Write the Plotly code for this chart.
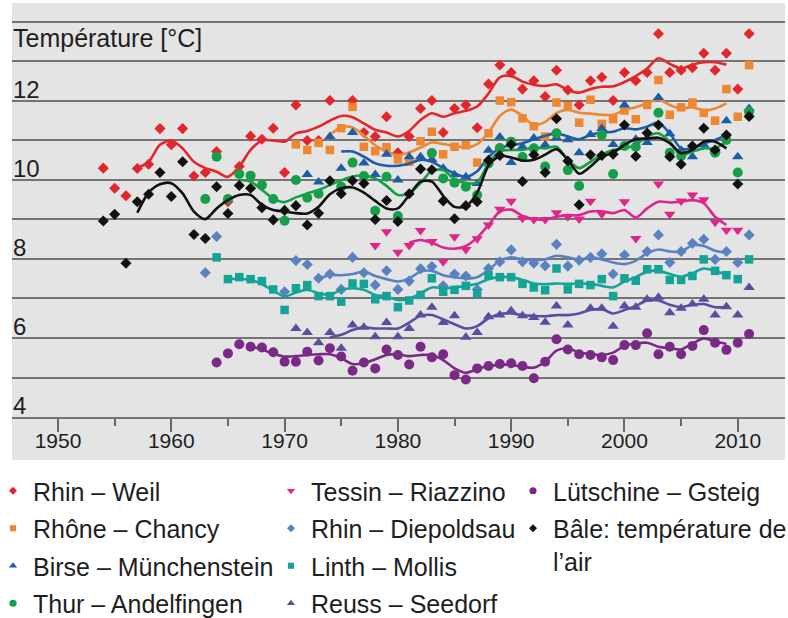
import plotly.graph_objects as go

# ---------------- data ----------------
# Rhin – Weil
weil_years = list(range(1954, 2012))
weil_vals = [10.30, 9.79, 9.60, 10.29, 10.40, 11.30, 10.89, 11.30, 10.10, 10.19,
             10.72, 9.45, 10.34, 11.11, 11.03, 11.31, 10.19, 11.90, 11.00, 11.00,
             12.01, None, 12.01, 11.20, 11.10, 11.60, 10.69, 11.10, 11.81, 12.01,
             11.20, 11.81, 11.90, 11.32, 12.43, 12.91, 12.72, 12.30, 12.51, 12.11,
             12.78, 12.28, 11.90, 12.51, 12.60, 12.01, 12.72, 12.51, 12.72, 13.70,
             12.72, 12.78, 12.84, 13.21, 12.78, 13.21, 12.30, 13.70]
weil_line_years = list(range(1957, 2010))
weil_line = [10.30, 10.46, 10.89, 11.00, 10.80, 10.46, 10.30, 10.21, 10.08, 10.34,
             10.76, 11.00, 11.00, 10.97, 11.18, 11.24, 11.35, 11.50, 11.62, 11.59,
             11.43, 11.27, 11.20, 11.10, 11.24, 11.52, 11.69, 11.60, 11.69, 11.75,
             11.86, 12.19, 12.60, 12.63, 12.49, 12.41, 12.38, 12.42, 12.28, 12.21,
             12.30, 12.36, 12.37, 12.48, 12.63, 12.82, 13.08, 12.94, 12.82, 12.92,
             12.98, 12.98, 12.92]

# Rhône – Chancy
chancy_years = list(range(1971, 2012))
chancy_vals = [10.90, 10.76, 10.94, 10.76, 11.31, 11.85, 10.84, 10.73, 10.83, 10.52,
               10.46, 10.98, 11.22, 10.65, 10.84, 10.88, 10.44, 11.18, 12.01, 11.97,
               11.56, 11.36, 11.10, 11.96, 11.87, 11.45, 12.03, 11.42, 11.54, 11.76,
               11.54, 11.90, 12.53, 11.65, 11.84, 11.96, 11.70, 11.50, 12.30, 11.60,
               12.91]
chancy_line_years = list(range(1974, 2010))
chancy_line = [11.15, 11.33, 11.33, 11.12, 10.88, 10.72, 10.63, 10.70, 10.82, 10.95,
               10.91, 10.86, 10.82, 10.91, 11.20, 11.62, 11.78, 11.62, 11.39, 11.47,
               11.70, 11.77, 11.70, 11.68, 11.65, 11.65, 11.77, 11.84, 11.94, 12.04,
               11.90, 11.81, 11.84, 11.76, 11.81, 11.94]

# Birse – Münchenstein
birse_years = list(range(1972, 2012))
birse_vals = [10.14, 9.95, 11.10, 10.30, 11.20, 10.43, 10.14, 10.65, 10.00, 10.59,
              10.59, 10.52, 10.30, 10.13, 10.08, 9.91, 10.75, 11.09, 10.44, 10.84,
              11.06, 10.89, 11.07, 11.02, 10.69, 11.15, 11.30, 10.90, 11.90, 11.03,
              10.95, 12.09, 11.17, 10.75, 10.59, 10.89, 10.76, 11.50, 10.59, 11.81]
birse_line_years = list(range(1975, 2010))
birse_line = [10.72, 10.72, 10.59, 10.42, 10.36, 10.36, 10.42, 10.51, 10.46, 10.30,
              10.17, 10.08, 10.22, 10.58, 10.80, 10.88, 10.93, 11.03, 11.12, 11.18,
              11.10, 11.03, 11.14, 11.20, 11.22, 11.31, 11.28, 11.35, 11.45, 11.18,
              10.80, 10.80, 10.93, 11.01, 11.14]

# Thur – Andelfingen
thur_years = list(range(1963, 2012))
thur_vals = [9.52, 10.59, 9.52, 10.15, 10.11, 9.87, 9.52, 8.97, 10.00, 9.55,
             9.65, None, 9.83, 10.44, 10.10, 9.22, 10.08, 9.09, None, None,
             10.68, 10.04, 9.93, 9.83, 9.62, 10.42, 10.81, 10.97, 10.58, 10.80,
             10.34, 11.18, 10.25, 9.85, None, 11.14, 10.15, 10.86, 10.84, None,
             11.70, 10.69, 10.61, None, None, 10.69, 11.01, 10.19, 11.73]
thur_line_years = list(range(1966, 2010))
thur_line = [10.00, 9.96, 9.75, 9.53, 9.44, 9.56, 9.66, 9.75, 9.87, 9.99,
             10.09, 10.11, 10.04, 9.85, 9.62, 9.66, 9.92, 10.23, 10.25, 10.02,
             9.92, 9.94, 10.42, 10.72, 10.76, 10.76, 10.82, 10.80, 10.84, 10.51,
             10.30, 10.46, 10.64, 10.76, 10.80, 10.89, 11.10, 11.18, 10.97, 10.63,
             10.72, 10.80, 10.80, 10.97]

# Tessin – Riazzino
tessin_years = list(range(1978, 2011))
tessin_vals = [8.34, 8.69, 8.17, 8.34, 8.72, 8.44, 7.93, 8.56, 8.24, 8.51,
               8.86, 9.26, 9.46, 9.03, 9.00, 9.00, 9.17, 9.07, 9.01, 9.46,
               9.14, None, 9.45, 8.52, None, 9.90, 9.13, 9.47, 9.62, 9.50,
               8.93, 8.73, 8.73]
tessin_line_years = list(range(1981, 2010))
tessin_line = [8.41, 8.48, 8.41, 8.29, 8.26, 8.33, 8.54, 8.86, 9.20, 9.25,
               9.09, 9.01, 9.00, 9.07, 9.11, 9.11, 9.20, 9.21, 9.16, 9.24,
               9.05, 9.28, 9.45, 9.43, 9.45, 9.49, 9.41, 9.07, 8.86]

# Rhin – Diepoldsau
diepoldsau_years = list(range(1963, 2012))
diepoldsau_vals = [7.65, 8.57, None, None, None, None, None, 7.17, 7.96, 7.86,
                   7.51, 7.62, 7.23, 8.04, 7.65, 7.34, 7.70, 7.23, 7.44, 7.75,
                   7.81, 7.32, 7.62, 7.57, 7.23, 7.76, 7.93, 8.23, 7.93, 7.89,
                   7.83, 8.37, 7.82, 7.97, 8.04, 8.13, 7.62, 8.10, None, 8.19,
                   8.61, 7.91, 8.19, 8.40, 8.50, 7.99, 8.19, 7.91, 8.61]
diepoldsau_line_years = list(range(1973, 2010))
diepoldsau_line = [7.51, 7.59, 7.59, 7.62, 7.68, 7.57, 7.49, 7.43, 7.51, 7.68,
                   7.70, 7.59, 7.54, 7.51, 7.54, 7.72, 7.96, 8.04, 7.99, 7.97,
                   7.99, 8.08, 8.04, 7.99, 8.04, 7.99, 7.91, 7.87, 7.96, 8.14,
                   8.24, 8.19, 8.19, 8.35, 8.33, 8.21, 8.16]

# Linth – Mollis
linth_years = list(range(1964, 2012))
linth_vals = [8.04, 7.49, 7.54, 7.49, 7.44, 7.23, 6.71, 7.26, 7.34, 7.06,
              7.06, 6.92, 7.38, 7.37, 6.98, 7.06, 6.78, 6.95, 7.09, 7.51,
              7.17, 7.22, 7.32, 7.13, 7.59, 7.54, 7.54, 7.37, 7.28, 7.21,
              7.76, 7.23, 7.37, 7.34, 7.49, 7.06, 7.51, 7.45, 7.74, 7.74,
              7.47, 7.47, 7.57, 7.99, 7.70, 7.59, 7.49, 7.99]
linth_line_years = list(range(1965, 2010))
linth_line = [7.49, 7.50, 7.47, 7.36, 7.20, 7.05, 7.15, 7.22, 7.13, 7.09,
              7.22, 7.26, 7.22, 7.09, 7.05, 6.96, 7.00, 7.13, 7.28, 7.26,
              7.28, 7.32, 7.37, 7.49, 7.54, 7.54, 7.47, 7.38, 7.36, 7.38,
              7.37, 7.38, 7.37, 7.32, 7.28, 7.43, 7.54, 7.68, 7.70, 7.62,
              7.55, 7.64, 7.76, 7.70, 7.59]

# Reuss – Seedorf
reuss_years = list(range(1971, 2012))
reuss_vals = [6.24, 6.14, 5.88, 6.14, 5.74, 6.33, 6.27, 6.03, 6.39, 6.03,
              6.24, 6.58, 6.78, 6.39, 6.56, 6.02, 6.14, 6.54, 6.58, 6.69,
              6.56, 6.52, 6.40, 6.81, 6.33, None, 6.75, 6.75, 6.30, 6.81,
              6.78, 6.98, 7.03, 6.64, 6.75, 6.86, 6.98, 6.58, 6.79, 6.58,
              7.28]
reuss_line_years = list(range(1974, 2010))
reuss_line = [6.02, 6.08, 6.20, 6.27, 6.24, 6.24, 6.24, 6.39, 6.56, 6.58,
              6.47, 6.35, 6.24, 6.30, 6.50, 6.61, 6.62, 6.58, 6.56, 6.55,
              6.58, 6.58, 6.62, 6.71, 6.73, 6.62, 6.71, 6.81, 6.95, 6.95,
              6.84, 6.78, 6.84, 6.86, 6.78, 6.78]

# Lütschine – Gsteig
lutschine_years = list(range(1964, 2012))
lutschine_vals = [5.38, 5.61, 5.84, 5.78, 5.76, 5.64, 5.40, 5.40, 5.65, 5.43,
                  5.74, 5.53, 5.17, 5.38, 5.23, 5.71, 5.57, 5.33, 5.78, 5.51,
                  5.59, 5.06, 4.95, 5.23, 5.29, 5.34, 5.36, 5.29, 4.98, 5.40,
                  5.97, 5.71, 5.59, 5.57, 5.51, 5.44, 5.82, 5.82, 6.12, 5.59,
                  5.78, 5.59, 5.80, 6.20, 5.88, 5.70, 5.88, 6.10]
lutschine_line_years = list(range(1967, 2010))
lutschine_line = [5.78, 5.71, 5.60, 5.53, 5.54, 5.57, 5.59, 5.59, 5.49, 5.34,
                  5.36, 5.46, 5.57, 5.59, 5.54, 5.57, 5.57, 5.44, 5.23, 5.12,
                  5.21, 5.29, 5.32, 5.32, 5.27, 5.25, 5.40, 5.68, 5.74, 5.63,
                  5.59, 5.57, 5.63, 5.80, 5.86, 5.88, 5.78, 5.74, 5.71, 5.86,
                  5.99, 5.91, 5.85]

# Bâle: température de l'air
bale_years = list(range(1954, 2012))
bale_vals = [8.96, 9.13, 7.89, 9.45, 9.64, 10.19, 9.58, 10.46, 8.62, 8.52,
             9.83, 9.15, 9.86, 9.79, 9.30, 8.99, 9.23, 9.35, 8.86, 9.16,
             9.98, 9.65, 9.98, 9.91, 9.00, 9.48, 8.95, 9.65, 10.28, 10.26,
             9.47, 9.02, 9.35, 9.45, 10.50, 10.62, 10.90, 9.96, 10.64, 10.19,
             11.55, 10.48, 9.37, 10.64, 10.62, 10.65, 11.39, 10.60, 11.19, 11.39,
             10.59, 10.40, 10.86, 11.31, 10.76, 11.14, 9.90, 11.61]
bale_line_years = list(range(1957, 2010))
bale_line = [9.17, 9.68, 9.89, 9.92, 9.66, 9.20, 9.01, 9.28, 9.49, 9.62,
             9.62, 9.37, 9.24, 9.20, 9.16, 9.15, 9.32, 9.64, 9.79, 9.81,
             9.68, 9.47, 9.28, 9.28, 9.62, 9.96, 9.96, 9.60, 9.32, 9.33,
             9.68, 10.36, 10.61, 10.57, 10.49, 10.51, 10.64, 10.78, 10.51, 10.16,
             10.34, 10.59, 10.69, 10.89, 11.03, 11.05, 11.07, 10.93, 10.68, 10.76,
             10.97, 10.97, 10.80]

y_tick_values = [4, 6, 8, 10, 12]
x_tick_values = [1950, 1960, 1970, 1980, 1990, 2000, 2010]
x_minor_values = [1955, 1965, 1975, 1985, 1995, 2005]
y_title = "Température [°C]"

# ---------------- styling ----------------
W, H = 788, 618
ML, MR, MT, MB = 12, 3, 3, 201
PW, PH = W - ML - MR, H - MT - MB
BG = "#e4e4e4"
GRID = "#747474"
FONT = "Liberation Sans, Arial, Helvetica, sans-serif"
TXT = "#1e1e1e"

series = [
    ("Rhin – Weil", weil_years, weil_vals, weil_line_years, weil_line,
     "#e2262b", "diamond", 8.5, "legend"),
    ("Rhône – Chancy", chancy_years, chancy_vals, chancy_line_years, chancy_line,
     "#ee8632", "square", 8.5, "legend"),
    ("Birse – Münchenstein", birse_years, birse_vals, birse_line_years, birse_line,
     "#1d5ca6", "triangle-up", 10, "legend"),
    ("Thur – Andelfingen", thur_years, thur_vals, thur_line_years, thur_line,
     "#159f48", "circle", 10, "legend"),
    ("Tessin – Riazzino", tessin_years, tessin_vals, tessin_line_years, tessin_line,
     "#e0248b", "triangle-down", 10, "legend2"),
    ("Rhin – Diepoldsau", diepoldsau_years, diepoldsau_vals, diepoldsau_line_years,
     diepoldsau_line, "#5a82c2", "diamond", 8.5, "legend2"),
    ("Linth – Mollis", linth_years, linth_vals, linth_line_years, linth_line,
     "#13a497", "square", 8.5, "legend2"),
    ("Reuss – Seedorf", reuss_years, reuss_vals, reuss_line_years, reuss_line,
     "#5a4ea1", "triangle-up", 10, "legend2"),
    ("Lütschine – Gsteig", lutschine_years, lutschine_vals, lutschine_line_years,
     lutschine_line, "#7a2a86", "circle", 10, "legend3"),
    ("Bâle: température de<br>l’air", bale_years, bale_vals, bale_line_years,
     bale_line, "#111111", "diamond", 8.5, "legend3"),
]

fig = go.Figure()
for name, xs, ys, lx, ly, col, sym, size, leg in series:
    # data points
    fig.add_trace(go.Scatter(
        x=xs, y=ys, mode="markers", name=name, legend=leg, legendgroup=name,
        showlegend=False,
        marker=dict(symbol=sym, size=size, color=col, line=dict(width=0)),
        hoverinfo="x+y"))
    # smoothed curve
    fig.add_trace(go.Scatter(
        x=lx, y=ly, mode="lines", showlegend=False, legend=leg, legendgroup=name,
        line=dict(color=col, width=2.6, shape="spline", smoothing=0.8),
        hoverinfo="skip"))
    # legend entry (smaller symbol, as in the reference legend)
    fig.add_trace(go.Scatter(
        x=[None], y=[None], mode="markers", name=name, legend=leg, legendgroup=name,
        marker=dict(symbol=sym, size=size * 0.72, color=col, line=dict(width=0)),
        hoverinfo="skip"))


def px_to_paper_y(py):
    return (H - MB - py) / PH


def px_to_paper_x(px):
    return (px - ML) / PW


annotations = []
for v in y_tick_values:
    annotations.append(dict(
        x=0, xref="paper", y=v + 0.3, yref="y", text=str(v), showarrow=False,
        xanchor="left", yanchor="middle", xshift=-1,
        font=dict(family=FONT, size=24, color=TXT)))
annotations.append(dict(
    x=0, xref="paper", y=13.6, yref="y", text=y_title, showarrow=False,
    xanchor="left", yanchor="middle", xshift=-1,
    font=dict(family=FONT, size=25, color=TXT)))

leg_font = dict(family=FONT, size=25, color=TXT)
leg_common = dict(xanchor="left", yanchor="top", bgcolor="rgba(0,0,0,0)",
                  font=leg_font, valign="top", orientation="v",
                  tracegroupgap=2, traceorder="grouped",
                  itemclick=False, itemdoubleclick=False)
leg_top = px_to_paper_y(468)

fig.update_layout(
    width=W, height=H,
    margin=dict(l=ML, r=MR, t=MT, b=MB, autoexpand=False),
    paper_bgcolor="white", plot_bgcolor=BG,
    font=dict(family=FONT, color=TXT),
    xaxis=dict(range=[1945.94, 2014.17], tickmode="array", tickvals=x_tick_values,
               ticks="outside", ticklen=13, tickwidth=1.6, tickcolor="#6a6a6a",
               minor=dict(ticks="outside", ticklen=7, tickwidth=1.6, tickcolor="#6a6a6a",
                          tickmode="array", tickvals=x_minor_values),
               tickfont=dict(family=FONT, size=21, color=TXT),
               ticklabelstandoff=-9,
               showgrid=False, zeroline=False, automargin=False,
               showline=True, linecolor=GRID, linewidth=1.8),
    yaxis=dict(range=[4, 14.48], tick0=4, dtick=1, showticklabels=False,
               showgrid=True, gridcolor=GRID, gridwidth=1.8, zeroline=False,
               ticks="", automargin=False),
    showlegend=True,
    legend=dict(x=px_to_paper_x(-7), y=leg_top, **leg_common),
    legend2=dict(x=px_to_paper_x(271), y=leg_top, **leg_common),
    legend3=dict(x=px_to_paper_x(513), y=leg_top, **leg_common),
    annotations=annotations,
    shapes=[dict(type="rect", xref="paper", yref="paper", x0=0, x1=1,
                 y0=px_to_paper_y(460), y1=0, fillcolor=BG,
                 line=dict(width=0), layer="below")],
)

# the page's default 8px body margin would offset the whole figure
fig.write_html(
    "out.html",
    config={"displayModeBar": False},
    post_script="document.body.style.margin='0';document.body.style.overflow='hidden';",
)
